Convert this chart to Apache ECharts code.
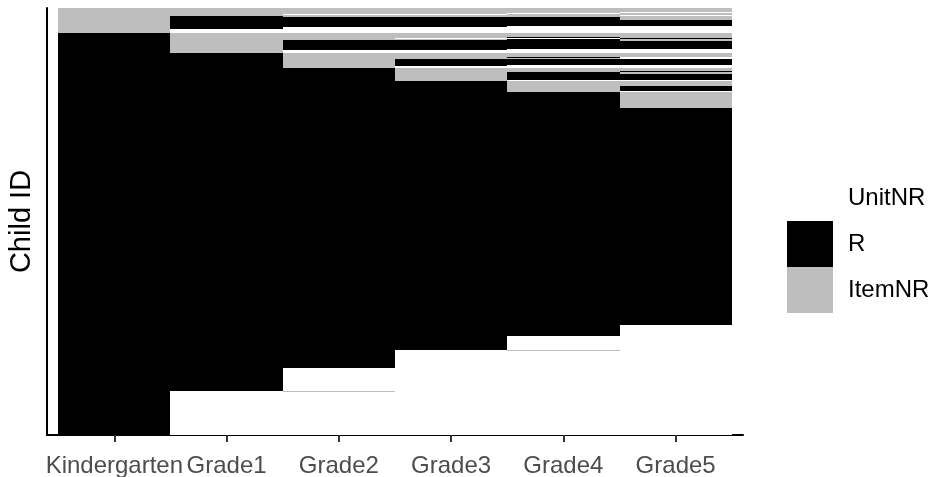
<!DOCTYPE html>
<html><head><meta charset="utf-8">
<script src="https://cdn.jsdelivr.net/npm/echarts@6/dist/echarts.min.js"></script>
<style>html,body{margin:0;padding:0;background:#fff}#c{width:932px;height:477px}</style>
</head><body><div id="c"></div>
<script>
const grades = ['Kindergarten', 'Grade1', 'Grade2', 'Grade3', 'Grade4', 'Grade5'];
const statuses = ['UnitNR', 'R', 'ItemNR'];
const statusColors = ['#ffffff', '#000000', '#bebebe'];
const nChildren = 427;

// Runs of children, from the top of the chart down: [status, number of children]
const kindergarten = [['ItemNR', 25], ['R', 402]];
const grade1 = [['ItemNR', 8], ['R', 13], ['UnitNR', 4], ['ItemNR', 20], ['R', 338], ['UnitNR', 44]];
const grade2 = [['ItemNR', 6], ['UnitNR', 1], ['ItemNR', 2], ['R', 10], ['UnitNR', 6], ['ItemNR', 7], ['R', 10],
  ['UnitNR', 3], ['ItemNR', 15], ['R', 300], ['UnitNR', 23], ['ItemNR', 1], ['UnitNR', 43]];
const grade3 = [['ItemNR', 6], ['UnitNR', 1], ['ItemNR', 2], ['R', 10], ['UnitNR', 6], ['ItemNR', 5], ['UnitNR', 1],
  ['ItemNR', 1], ['R', 10], ['UnitNR', 3], ['ItemNR', 6], ['R', 7], ['UnitNR', 2], ['ItemNR', 13], ['R', 269], ['UnitNR', 85]];
const grade4 = [['ItemNR', 5], ['UnitNR', 1], ['ItemNR', 3], ['R', 9], ['UnitNR', 7], ['ItemNR', 4], ['R', 1], ['UnitNR', 1],
  ['R', 10], ['UnitNR', 4], ['ItemNR', 4], ['R', 1], ['ItemNR', 1], ['R', 6], ['UnitNR', 3], ['ItemNR', 4], ['R', 8],
  ['UnitNR', 1], ['ItemNR', 11], ['R', 244], ['UnitNR', 14], ['ItemNR', 1], ['UnitNR', 84]];
const grade5 = [['ItemNR', 4], ['UnitNR', 1], ['ItemNR', 2], ['UnitNR', 1], ['ItemNR', 4], ['R', 6], ['UnitNR', 7],
  ['ItemNR', 5], ['R', 1], ['ItemNR', 2], ['R', 8], ['UnitNR', 4], ['ItemNR', 4], ['UnitNR', 2], ['R', 6], ['UnitNR', 3],
  ['ItemNR', 3], ['R', 1], ['ItemNR', 2], ['R', 6], ['UnitNR', 1], ['ItemNR', 5], ['R', 5], ['UnitNR', 1], ['ItemNR', 16],
  ['R', 217], ['UnitNR', 110]];
const runsByGrade = [kindergarten, grade1, grade2, grade3, grade4, grade5];

const seriesData = statuses.map(() => []);
runsByGrade.forEach((runs, gi) => {
  let pos = 0;
  runs.forEach(([s, n]) => {
    seriesData[statuses.indexOf(s)].push([gi + 1, pos, pos + n]);
    pos += n;
  });
});

function renderItem(params, api) {
  const x = api.value(0), y0 = api.value(1), y1 = api.value(2);
  const p0 = api.coord([x - 0.5, y0]);
  const p1 = api.coord([x + 0.5, y1]);
  const xa = Math.round(p0[0]), xb = Math.round(p1[0]);
  const ya = Math.round(Math.min(p0[1], p1[1])), yb = Math.round(Math.max(p0[1], p1[1]));
  return {
    type: 'rect',
    shape: { x: xa, y: ya, width: xb - xa, height: yb - ya },
    style: { fill: api.visual('color') }
  };
}

const chart = echarts.init(document.getElementById('c'), null, { renderer: 'canvas' });
const font = 'Liberation Sans, Arial, Helvetica, sans-serif';
chart.setOption({
  animation: false,
  backgroundColor: '#ffffff',
  grid: { left: 47, right: 189, top: 8, bottom: 42, containLabel: false, outerBoundsMode: 'none' },
  xAxis: {
    type: 'value', min: 0.4, max: 6.6,
    splitLine: { show: false },
    axisLine: { show: true, onZero: false, lineStyle: { color: '#000', width: 2 } },
    axisTick: { show: true, customValues: [1, 2, 3, 4, 5, 6], length: 7, lineStyle: { color: '#333', width: 2 } },
    axisLabel: { customValues: [1, 2, 3, 4, 5, 6], formatter: v => grades[Math.round(v) - 1], fontSize: 24,
      color: '#4d4d4d', fontFamily: font, margin: 19 }
  },
  yAxis: {
    type: 'value', inverse: true, min: 0, max: nChildren,
    name: 'Child ID', nameLocation: 'middle', nameGap: 11,
    nameTextStyle: { fontSize: 29, color: '#000', fontFamily: font },
    splitLine: { show: false }, axisTick: { show: false }, axisLabel: { show: false },
    axisLine: { show: true, onZero: false, lineStyle: { color: '#000', width: 2 } }
  },
  legend: {
    orient: 'vertical', left: 787, top: 175, padding: 0, itemWidth: 46, itemHeight: 46, itemGap: 0,
    icon: 'rect', selectedMode: false,
    data: statuses,
    textStyle: { fontSize: 24, color: '#000', fontFamily: font, padding: [0, 0, 0, 10] }
  },
  series: statuses.map((s, i) => ({
    name: s, type: 'custom', renderItem,
    itemStyle: { color: statusColors[i] },
    encode: { x: 0, y: [1, 2] },
    data: seriesData[i]
  }))
});
</script></body></html>
